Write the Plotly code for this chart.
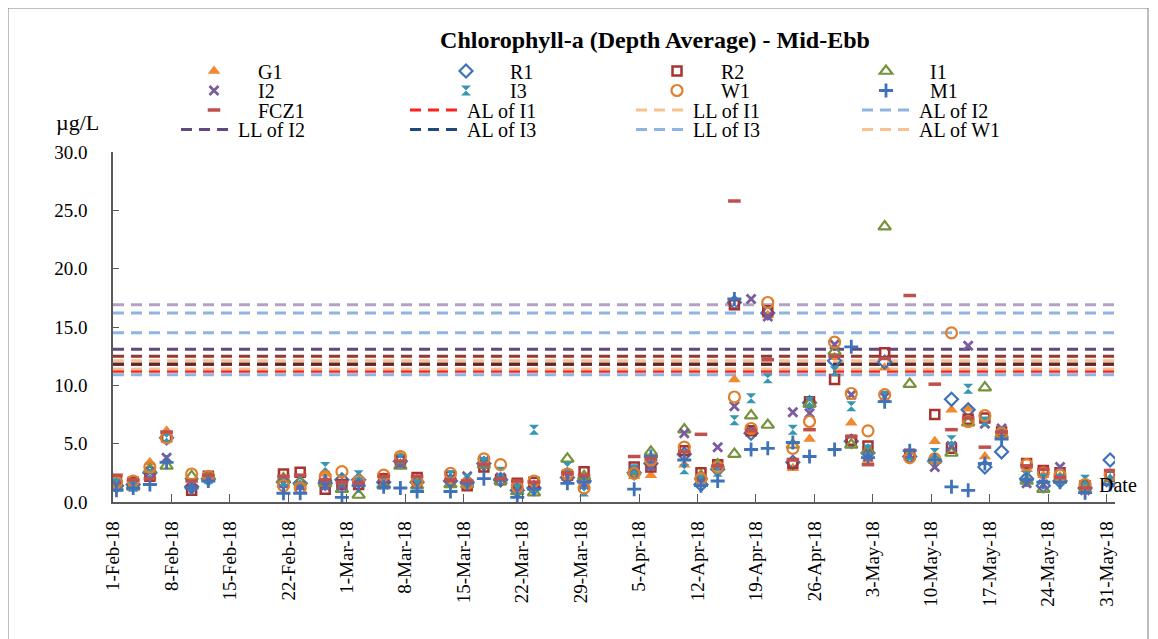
import plotly.graph_objects as go

# Mid-ebb sampling dates (time of day ~10:00)
DATES = [
    "2018-02-01 10:00", "2018-02-03 10:00", "2018-02-05 10:00", "2018-02-07 10:00",
    "2018-02-10 10:00", "2018-02-12 10:00", "2018-02-21 10:00", "2018-02-23 10:00",
    "2018-02-26 10:00", "2018-02-28 10:00", "2018-03-02 10:00", "2018-03-05 10:00",
    "2018-03-07 10:00", "2018-03-09 10:00", "2018-03-13 10:00", "2018-03-15 10:00",
    "2018-03-17 10:00", "2018-03-19 10:00", "2018-03-21 10:00", "2018-03-23 10:00",
    "2018-03-27 10:00", "2018-03-29 10:00", "2018-04-04 10:00", "2018-04-06 10:00",
    "2018-04-10 10:00", "2018-04-12 10:00", "2018-04-14 10:00", "2018-04-16 10:00",
    "2018-04-18 10:00", "2018-04-20 10:00", "2018-04-23 10:00", "2018-04-25 10:00",
    "2018-04-28 10:00", "2018-04-30 10:00", "2018-05-02 10:00", "2018-05-04 10:00",
    "2018-05-07 10:00", "2018-05-10 10:00", "2018-05-12 10:00", "2018-05-14 10:00",
    "2018-05-16 10:00", "2018-05-18 10:00", "2018-05-21 10:00", "2018-05-23 10:00",
    "2018-05-25 10:00", "2018-05-28 10:00", "2018-05-31 10:00",
]

# Chlorophyll-a, depth average (ug/L)
G1 = [1.6, 1.8, 3.4, 6.1, 1.5, 2.3, 1.9, 1.5, 2.4, 1.6, 1.7, 2.1, 4.0, 1.9, 1.5, 1.6,
      3.1, 2.0, 1.4, 1.5, 2.6, 1.5, 2.2, 2.3, 3.2, 2.4, 3.0, 10.5, 6.0, 16.0, 2.9, 5.4,
      12.4, 6.8, 3.6, 11.5, 3.8, 5.2, 7.9, 8.0, 3.9, 5.7, 2.8, 2.3, 2.2, 1.6, 2.0]
R1 = [1.4, 1.5, 2.5, 5.5, 1.3, 2.0, 1.7, 1.6, 1.6, 1.9, 1.9, 1.7, 3.5, 1.7, 1.8, 1.7,
      3.3, 1.9, 1.0, 1.2, 2.1, 1.8, 2.5, 3.3, 4.1, 1.5, 2.8, 17.1, 5.9, 16.2, 3.4, 8.5,
      12.1, 5.2, 4.2, 12.0, 3.9, 3.5, 8.8, 7.9, 3.0, 4.3, 2.0, 1.4, 1.8, 1.2, 3.6]
R2 = [1.8, 1.7, 2.2, 5.6, 1.0, 2.2, 2.4, 2.55, 1.1, 1.5, 1.5, 2.0, 3.6, 2.1, 2.2, 1.4,
      3.0, 1.9, 1.6, 1.7, 2.3, 2.6, 3.0, 3.0, 4.4, 2.5, 3.2, 16.9, 6.1, 16.4, 3.3, 8.6,
      10.5, 5.3, 4.8, 12.8, 4.1, 7.5, 4.6, 7.1, 7.2, 6.0, 3.3, 2.7, 2.5, 1.4, 2.2]
I1 = [1.3, 1.3, 2.8, 3.1, 2.2, 2.1, 2.0, 1.7, 1.6, 1.1, 0.6, 1.4, 3.1, 1.4, 1.5, 1.5,
      3.2, 1.8, 0.9, 0.8, 3.7, 2.2, 2.6, 4.3, 6.2, 2.2, 3.2, 4.1, 7.4, 6.6, 4.9, 8.4,
      12.9, 4.9, 4.4, 23.6, 10.1, 3.6, 4.2, 6.8, 9.8, 5.8, 1.8, 1.1, 1.9, 1.3, 1.8]
I2 = [1.5, 1.4, 2.6, 3.8, 1.6, 2.1, 1.6, 1.4, 1.4, 1.4, 1.6, 1.5, 3.3, 1.6, 2.0, 2.2,
      3.5, 2.1, 1.2, 1.4, 2.2, 1.5, 2.7, 3.1, 5.9, 1.7, 4.7, 8.2, 17.4, 15.9, 7.7, 7.6,
      13.5, 9.2, 3.9, 9.0, 4.0, 3.0, 4.8, 13.4, 6.7, 6.3, 1.6, 1.5, 3.0, 1.0, 1.7]
I3 = [1.6, 1.3, 2.4, 5.5, 1.4, 2.0, 1.8, 1.9, 3.0, 1.9, 2.3, 1.6, 3.7, 1.5, 2.3, 2.0,
      3.4, 2.6, 1.1, 6.2, 3.0, 0.9, 2.8, 3.5, 2.8, 1.9, 2.6, 7.0, 8.9, 10.6, 6.2, 8.6,
      11.2, 8.2, 4.5, 9.1, 4.0, 4.2, 5.3, 9.7, 6.9, 5.8, 2.2, 2.0, 2.0, 1.9, 2.4]
W1 = [1.7, 1.8, 3.0, 5.5, 2.4, 2.2, 1.4, 1.2, 2.2, 2.6, 1.8, 2.3, 3.9, 1.8, 2.45, 1.6,
      3.7, 3.2, 1.3, 1.8, 2.4, 1.2, 2.45, 3.6, 4.7, 2.0, 3.0, 9.0, 6.3, 17.1, 4.6, 6.9,
      13.7, 9.3, 6.1, 9.2, 3.8, 3.7, 14.5, 6.9, 7.4, 5.9, 3.2, 2.5, 2.3, 1.5, 2.3]
M1 = [1.0, 1.2, 1.5, 3.4, 1.2, 1.8, 0.75, 0.75, 1.8, 0.4, 1.4, 1.3, 1.2, 0.9, 0.9, 1.6,
      2.0, 1.9, 0.4, 1.1, 1.6, 1.7, 1.1, 3.9, 3.6, 1.4, 1.8, 17.4, 4.5, 4.6, 5.1, 3.9,
      4.5, 13.3, 3.8, 8.6, 4.4, 3.6, 1.3, 1.0, 3.3, 5.4, 1.9, 1.7, 1.7, 0.8, 1.5]
FCZ1 = [2.3, 1.9, 2.0, 6.0, 1.8, 2.3, 2.2, 2.3, 1.9, 1.7, 1.6, 2.2, 3.5, 2.2, 1.9, 1.8,
        3.2, 2.0, 1.8, 1.7, 2.5, 2.3, 3.9, 3.7, 4.3, 5.8, 3.1, 25.8, 6.1, 12.2, 3.6, 6.2,
        12.5, 5.6, 3.2, 12.3, 17.7, 10.1, 6.2, 7.2, 4.7, 6.0, 3.1, 2.8, 2.1, 1.2, 2.7]

STATIONS = ["G1", "R1", "R2", "I1", "I2", "I3", "W1", "M1", "FCZ1"]
STATION_VALUES = [G1, R1, R2, I1, I2, I3, W1, M1, FCZ1]

# Action / Limit levels (ug/L)
LIMIT_NAMES = ["AL of I1", "LL of I1", "AL of I2", "LL of I2", "AL of I3", "LL of I3",
               "AL of W1", "LL of W1", "AL of FCZ1", "LL of FCZ1", "LL of M1"]
LIMIT_VALUES = [11.2, 12.1, 10.9, 13.1, 11.8, 14.5, 11.4, 16.2, 11.8, 12.5, 16.9]
LIMITS_IN_LEGEND = 7

AXIS_START = "2018-02-01"
AXIS_END = "2018-06-01"

MARKER_STYLE = {
    "G1": dict(symbol="triangle-up", color="#f0892f", size=11, width=0),
    "R1": dict(symbol="diamond-open", color="#3f72b8", size=10, width=2.2),
    "R2": dict(symbol="square-open", color="#a8322d", size=9, width=2.5),
    "I1": dict(symbol="triangle-up-open", color="#76933c", size=11, width=2.2),
    "I2": dict(symbol="x-thin-open", color="#7a5c9e", size=9, width=2.8),
    "I3": dict(symbol="hourglass", color="#3598b0", size=10, width=0),
    "W1": dict(symbol="circle-open", color="#df7f2e", size=11, width=2.2),
    "M1": dict(symbol="cross-thin-open", color="#3f72b8", size=10, width=2.8),
    "FCZ1": dict(symbol="line-ew-open", color="#c0504d", size=9, width=3.5),
}
LIMIT_COLORS = ["#ff2020", "#fac090", "#8eb4e3", "#604a7b", "#1f497d", "#8eb4e3",
                "#fac090", "#8eb4e3", "#632523", "#953735", "#b3a2c7"]

FONT = "Liberation Serif, Times New Roman, serif"
AXIS_GREY = "#595959"

# the page body has an 8px margin, so the figure starts at (8, 8) of the screenshot
PAGE_PAD = 8
W, H = 1150, 631
# plot area in screenshot pixels
PLOT_L, PLOT_R, PLOT_T, PLOT_B = 113, 1115, 152, 502

# legend grid (screenshot pixels): row centres, symbol positions per column
ROW_Y = [71, 90.5, 110, 129.5]
MARKER_X = [214, 466, 677, 886]     # marker centre of marker-only entries
LINE_X = [176, 405, 631, 857]       # left edge of dashed-line entries


def px_x(px):
    return (px - PLOT_L) / (PLOT_R - PLOT_L)


def px_y(py):
    return (PLOT_B - py) / (PLOT_B - PLOT_T)


legend_order = STATIONS + LIMIT_NAMES[:LIMITS_IN_LEGEND]
legends = {}


def legend_for(name, is_marker):
    # every legend entry gets its own legend box, placed on the 4-column grid
    i = legend_order.index(name)
    key = "legend" if i == 0 else "legend%d" % (i + 1)
    row, col = divmod(i, 4)
    if is_marker:
        x, itemwidth = MARKER_X[col] - 44, 78
    else:
        x, itemwidth = LINE_X[col], 52
    legends[key] = dict(
        orientation="h", x=px_x(x), xanchor="left", y=px_y(ROW_Y[row]),
        yanchor="middle", font=dict(family=FONT, size=20, color="black"),
        itemwidth=itemwidth, bgcolor="rgba(0,0,0,0)")
    return key


fig = go.Figure()

# limit lines first, markers drawn on top
for i, (name, val) in enumerate(zip(LIMIT_NAMES, LIMIT_VALUES)):
    kw = dict(showlegend=False)
    if i < LIMITS_IN_LEGEND:
        kw = dict(showlegend=True, legend=legend_for(name, False))
    fig.add_trace(go.Scatter(
        x=[AXIS_START, AXIS_END], y=[val, val], mode="lines", name=name,
        line=dict(color=LIMIT_COLORS[i], width=3, dash="11px,7px"),
        hoverinfo="skip", **kw))

for name, vals in zip(STATIONS, STATION_VALUES):
    st = MARKER_STYLE[name]
    fig.add_trace(go.Scatter(
        x=DATES, y=vals, mode="markers", name=name, legend=legend_for(name, True),
        marker=dict(symbol=st["symbol"], size=st["size"], color=st["color"],
                    line=dict(color=st["color"], width=st["width"]))))

fig.update_layout(
    width=W, height=H,
    margin=dict(l=PLOT_L - PAGE_PAD, r=W - (PLOT_R - PAGE_PAD), t=PLOT_T - PAGE_PAD,
                b=H - (PLOT_B - PAGE_PAD), pad=0, autoexpand=False),
    paper_bgcolor="white", plot_bgcolor="white",
    font=dict(family=FONT, size=19, color="black"),
    title=dict(text="<b>Chlorophyll-a (Depth Average) - Mid-Ebb</b>",
               font=dict(family=FONT, size=24, color="black"),
               x=(655 - PAGE_PAD) / W, xanchor="center", xref="container",
               y=1 - (40 - PAGE_PAD) / H, yanchor="middle", yref="container"),
    xaxis=dict(type="date", range=[AXIS_START, AXIS_END], tick0=AXIS_START,
               dtick=7 * 86400000, tickformat="%-d-%b-%y", tickangle=-90,
               ticks="inside", ticklen=8, tickcolor=AXIS_GREY, showline=True,
               linecolor=AXIS_GREY, linewidth=1.5, showgrid=False, zeroline=False,
               ticklabelstandoff=10, tickfont=dict(family=FONT, size=19)),
    yaxis=dict(range=[0, 30], dtick=5, tickformat=".1f", ticks="inside", ticklen=6,
               tickcolor=AXIS_GREY, showline=True, linecolor=AXIS_GREY, linewidth=1.5,
               showgrid=False, zeroline=False, ticklabelstandoff=20,
               tickfont=dict(family=FONT, size=19)),
    annotations=[
        dict(text="µg/L", xref="paper", yref="paper", x=px_x(54), y=px_y(123),
             xanchor="left", yanchor="middle", showarrow=False,
             font=dict(family=FONT, size=22)),
        dict(text="Date", xref="paper", yref="paper", x=px_x(1097), y=px_y(485),
             xanchor="left", yanchor="middle", showarrow=False,
             font=dict(family=FONT, size=20)),
    ],
    shapes=[dict(type="rect", xref="paper", yref="paper", x0=px_x(8), x1=px_x(1148),
                 y0=px_y(660), y1=px_y(8), line=dict(color="#7f7f7f", width=1),
                 layer="below")],
    **legends,
)

fig.write_html("out.html")
